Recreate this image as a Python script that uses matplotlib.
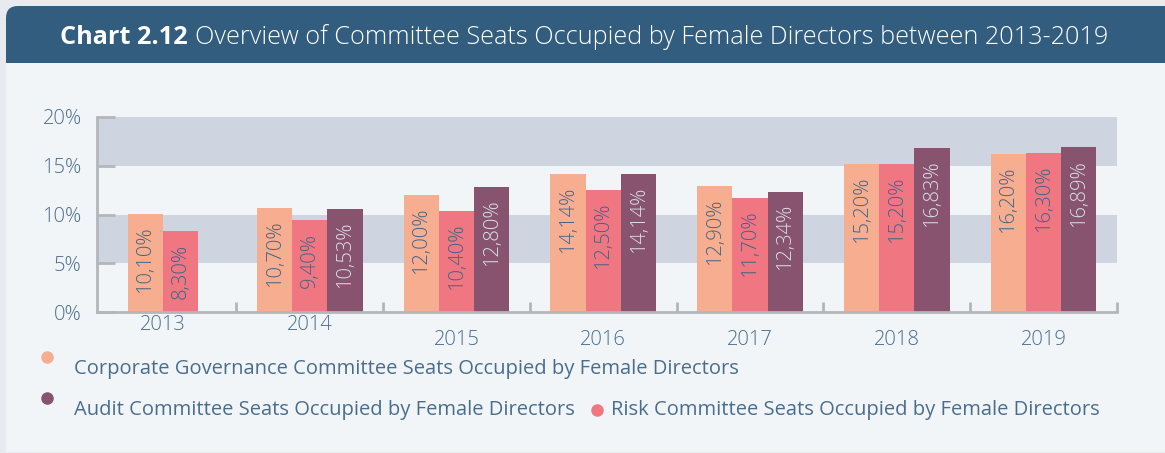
import matplotlib.pyplot as plt
from matplotlib.patches import FancyBboxPatch, Rectangle
from matplotlib.lines import Line2D
import numpy as np

years = ['2013', '2014', '2015', '2016', '2017', '2018', '2019']
corp_gov = [10.10, 10.70, 12.00, 14.14, 12.90, 15.20, 16.20]
risk = [8.30, 9.40, 10.40, 12.50, 11.70, 15.20, 16.30]
audit = [None, 10.53, 12.80, 14.14, 12.34, 16.83, 16.89]

series_names = ['Corporate Governance Committee Seats Occupied by Female Directors',
                'Risk Committee Seats Occupied by Female Directors',
                'Audit Committee Seats Occupied by Female Directors']
colors = ['#f7ae90', '#f07782', '#87536f']
label_colors = ['#3f6587', '#3f6587', '#dde0ea']

txt_col = '#4a6d8e'
plt.rcParams['font.family'] = ['Open Sans', 'DejaVu Sans']
plt.rcParams['font.weight'] = 'light'

W, H = 11.65, 4.53
fig = plt.figure(figsize=(W, H), dpi=100)
fig.patch.set_facecolor('#e7eaee')


def px(x, y):
    return x / 100, (453 - y) / 100


# card: header + body
card = FancyBboxPatch(px(6, 452), 12.0, (452 - 6) / 100,
                      boxstyle='round,pad=0,rounding_size=0.12',
                      transform=fig.dpi_scale_trans, facecolor='#325d7f',
                      edgecolor='none', zorder=-3)
fig.add_artist(card)
body = Rectangle(px(6, 452), 12.0, (452 - 63) / 100, transform=fig.dpi_scale_trans,
                 facecolor='#f2f5f8', edgecolor='none', zorder=-2)
fig.add_artist(body)

# title
fig.canvas.draw()
r = fig.canvas.get_renderer()
t1 = fig.text(60 / 1165, 1 - 37 / 453, 'Chart 2.12', color='white', fontsize=18.2,
              fontweight='bold', va='center', ha='left')
bb = t1.get_window_extent(renderer=r)
fig.text((bb.x1 + 7) / 1165, 1 - 37 / 453,
         'Overview of Committee Seats Occupied by Female Directors between 2013-2019',
         color='white', fontsize=18.2, va='center', ha='left')

ax = fig.add_axes([97 / 1165, (453 - 312) / 453, 1020 / 1165, 195 / 453])
ax.set_facecolor('none')
ax.axhspan(5, 10, color='#cfd5e0', zorder=0, lw=0)
ax.axhspan(15, 20, color='#cfd5e0', zorder=0, lw=0)

bw = 0.24
data = [corp_gov, risk, audit]
x = np.arange(len(years))
for i in range(len(years)):
    present = [s for s in range(3) if data[s][i] is not None]
    n = len(present)
    for k, s in enumerate(present):
        xc = x[i] + (k - (n - 1) / 2) * bw
        v = data[s][i]
        ax.bar(xc, v, width=bw, color=colors[s], zorder=2, lw=0)
        ax.annotate(f'{v:.2f}'.replace('.', ',') + '%', (xc, v),
                    xytext=(0, -9), textcoords='offset points',
                    rotation=90, ha='center', va='top', fontsize=14.5,
                    color=label_colors[s], zorder=3)

ax.set_xlim(-0.45, 6.5)
ax.set_ylim(0, 20)
for sp in ['top', 'right']:
    ax.spines[sp].set_visible(False)
for sp in ['left', 'bottom']:
    ax.spines[sp].set_color('#b4b6ba')
    ax.spines[sp].set_linewidth(2)
    ax.spines[sp].set_zorder(4)

ax.set_yticks([0, 5, 10, 15, 20])
ax.set_yticklabels(['0%', '5%', '10%', '15%', '20%'])
ax.tick_params(axis='y', direction='in', length=13, width=2, color='#b4b6ba',
               labelsize=14.5, labelcolor=txt_col, pad=11)

# group separators as minor ticks, year labels as major ticks
ax.set_xticks(np.arange(0.5, 7, 1), minor=True)
ax.set_xticks(x)
ax.set_xticklabels(years)
ax.tick_params(axis='x', which='minor', direction='in', length=7, width=2,
               color='#b4b6ba')
ax.tick_params(axis='x', which='major', length=0, labelsize=14.5,
               labelcolor=txt_col)
for i, t in enumerate(ax.xaxis.get_major_ticks()):
    t.set_pad(2 if i < 2 else 13)

# legend drawn by hand
leg_fs = 14.5
lw_ = 'normal'
fig.add_artist(Line2D([47 / 1165], [1 - 357 / 453], marker='o', markersize=8,
                      color=colors[0], lw=0, transform=fig.transFigure))
fig.text(74 / 1165, 1 - 369 / 453, series_names[0], color=txt_col,
         fontsize=leg_fs, fontweight=lw_, va='center', ha='left')
fig.add_artist(Line2D([47 / 1165], [1 - 398 / 453], marker='o', markersize=8,
                      color=colors[2], lw=0, transform=fig.transFigure))
ta = fig.text(74 / 1165, 1 - 410 / 453, series_names[2], color=txt_col,
              fontsize=leg_fs, fontweight=lw_, va='center', ha='left')
bba = ta.get_window_extent(renderer=r)
fig.add_artist(Line2D([(bba.x1 + 22) / 1165], [1 - 410 / 453], marker='o',
                      markersize=8, color=colors[1], lw=0,
                      transform=fig.transFigure))
fig.text((bba.x1 + 36) / 1165, 1 - 410 / 453, series_names[1], color=txt_col,
         fontsize=leg_fs, fontweight=lw_, va='center', ha='left')

fig.savefig('out.png', dpi=100)
